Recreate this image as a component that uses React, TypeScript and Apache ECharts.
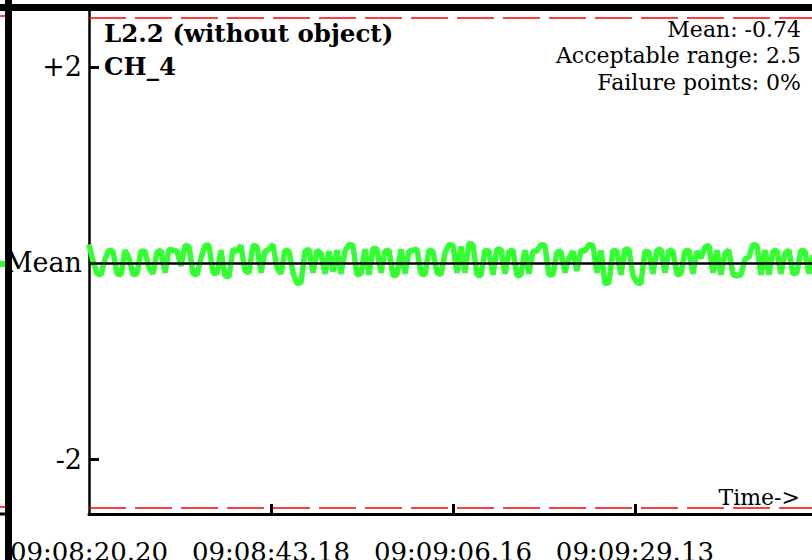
import React, { useEffect, useRef } from 'react';
import * as echarts from 'echarts';

const titleLines = ['L2.2 (without object)', 'CH_4'];
const meanValue = -0.74;
const acceptableRange = 2.5;
const failurePercent = 0;
const startSeconds = 20.2;
const endSeconds = 111.49;
const sampleStep = 0.505;
const tickSeconds = [20.2, 43.18, 66.16, 89.13];
const tickLabels = ['09:08:20.20', '09:08:43.18', '09:09:06.16', '09:09:29.13'];
const yTickValues = [-2, 0, 2];
const yTickLabels = ['-2', 'Mean', '+2'];

// deviation from the mean, one sample every sampleStep seconds
const deviation = [
  0.19, 0.02, -0.11, -0.12, 0.04, 0.13, 0.12, -0.11, -0.12, 0.13, 0.05, -0.12, -0.11, 0.12, 0.12, -0.05,
  -0.11, 0.11, 0.13, -0.1, 0.14, 0.13, 0.12, -0.03, 0.18, 0.17, -0.11, -0.12, 0.05, 0.18, 0.18,
  -0.1, -0.11, 0.13, -0.13, -0.14, 0.14, 0.12, 0.18, -0.08, -0.1, 0.18, 0.17, -0.1, 0.12, 0.14, 0.19,
  -0.05, -0.11, 0.13, 0.12, -0.1, -0.21, -0.2, 0.12, 0.14, -0.1, 0.13, 0.1, -0.11, 0.12, -0.09,
  0.13, -0.11, 0.12, 0.19, 0.18, -0.12, -0.11, 0.14, -0.12, 0.15, 0.14, -0.1, 0.12, 0.13, -0.13, -0.12,
  0.14, -0.11, 0.12, 0.13, 0.14, -0.11, -0.12, 0.13, 0.12, -0.1, -0.12, 0.1, 0.19, 0.18, -0.1,
  0.17, -0.1, 0.2, 0.19, -0.12, -0.13, 0.13, 0.12, -0.12, 0.14, 0.14, -0.11, 0.12, 0.13, -0.13, -0.12,
  0.13, -0.11, 0.12, 0.12, 0.19, 0.18, -0.12, -0.12, 0.11, 0.12, -0.1, 0.05, 0.12, -0.08, 0.13,
  0.12, 0.19, 0.18, -0.1, 0.13, -0.21, -0.2, 0.13, 0.12, -0.12, 0.14, 0.14, -0.13, -0.2, -0.21, 0.12,
  0.11, -0.11, 0.13, 0.14, -0.1, 0.13, 0.12, -0.12, -0.11, 0.12, 0.13, -0.11, 0.12, 0.05, 0.16,
  0.18, -0.1, 0.13, -0.12, 0.1, 0.13, -0.12, -0.13, -0.12, 0.04, 0.06, 0.19, 0.18, -0.12, 0.13, -0.12,
  0.12, 0.13, -0.11, 0.1, 0.13, -0.11, -0.1, 0.13, 0.12, -0.11, 0.08,
];

const FONT = '"DejaVu Serif"';

export default function App() {
  const ref = useRef<HTMLDivElement>(null);
  useEffect(() => {
    document.body.style.margin = '0';
    document.body.style.overflow = 'hidden';
    const chart = echarts.init(ref.current!, null, { renderer: 'svg' });
    const points = deviation.map((v, i) => [startSeconds + i * sampleStep, v]);
    const nearestLabel = (v: number) => {
      let best = 0;
      tickSeconds.forEach((t, i) => {
        if (Math.abs(t - v) < Math.abs(tickSeconds[best] - v)) best = i;
      });
      return tickLabels[best];
    };
    const infoLines = [
      `Mean: ${meanValue}`,
      `Acceptable range: ${acceptableRange}`,
      `Failure points: ${failurePercent}%`,
    ];
    const redDash = { color: '#ff0000', width: 1.5, type: [37, 9] as any };
    chart.setOption({
      animation: false,
      backgroundColor: '#fff',
      grid: { left: 89, right: 0, top: 11, bottom: 46, outerBoundsMode: 'none', containLabel: false },
      xAxis: {
        type: 'value',
        min: startSeconds,
        max: endSeconds,
        axisLine: { onZero: false, lineStyle: { color: '#000', width: 3 } },
        axisTick: {
          show: true,
          inside: true,
          length: 10,
          customValues: tickSeconds.slice(1),
          lineStyle: { color: '#000', width: 3 },
        },
        axisLabel: {
          customValues: tickSeconds,
          formatter: (v: number) => nearestLabel(v),
          color: '#000',
          fontFamily: FONT,
          fontSize: 26,
          margin: 25,
        },
        splitLine: { show: false },
      },
      yAxis: {
        type: 'value',
        min: -2.56,
        max: 2.57,
        axisLine: { show: true, onZero: false, lineStyle: { color: '#000', width: 2.5 } },
        axisTick: {
          show: true,
          inside: true,
          length: 10,
          customValues: [-2, 2],
          lineStyle: { color: '#000', width: 3 },
        },
        axisLabel: {
          customValues: yTickValues,
          formatter: (v: number) => yTickLabels[yTickValues.indexOf(Math.round(v))] ?? '',
          color: '#000',
          fontFamily: FONT,
          fontSize: 27,
          margin: 7,
        },
        splitLine: { show: false },
      },
      series: [
        {
          type: 'line',
          data: [[startSeconds, 0]],
          symbol: 'none',
          z: 1,
          lineStyle: { width: 0 },
          markLine: {
            silent: true,
            symbol: 'none',
            label: { show: false },
            data: [
              { yAxis: 0, lineStyle: { color: '#000', width: 2.5, type: 'solid' } },
              { yAxis: acceptableRange, lineStyle: redDash },
              { yAxis: -acceptableRange, lineStyle: redDash },
            ],
          },
        },
        {
          type: 'line',
          data: points,
          symbol: 'none',
          z: 3,
          lineStyle: { color: '#33ff33', width: 5.5 },
        },
      ],
      graphic: [
        { type: 'rect', shape: { x: 0, y: 4, width: 812, height: 7 }, style: { fill: '#000' }, z: 100 },
        { type: 'rect', shape: { x: 5, y: 0, width: 7, height: 560 }, style: { fill: '#000' }, z: 100 },
        { type: 'line', shape: { x1: 0, y1: 16, x2: 5, y2: 16 }, style: { stroke: '#ff0000', lineWidth: 1.5 }, z: 90 },
        { type: 'line', shape: { x1: 0, y1: 507, x2: 5, y2: 507 }, style: { stroke: '#ff0000', lineWidth: 1.5 }, z: 90 },
        { type: 'line', shape: { x1: 0, y1: 514, x2: 5, y2: 514 }, style: { stroke: '#000', lineWidth: 3 }, z: 90 },
        { type: 'line', shape: { x1: 0, y1: 264, x2: 5, y2: 264 }, style: { stroke: '#33ff33', lineWidth: 6 }, z: 90 },
        {
          type: 'text',
          x: 104,
          y: 17,
          z: 100,
          style: {
            text: titleLines.join('\n'),
            font: `bold 24.5px ${FONT}`,
            lineHeight: 33,
            fill: '#000',
            align: 'left',
            verticalAlign: 'top',
          },
        },
        {
          type: 'text',
          x: 801,
          y: 16,
          z: 100,
          style: {
            text: infoLines.join('\n'),
            font: `22px ${FONT}`,
            lineHeight: 26.5,
            fill: '#000',
            align: 'right',
            verticalAlign: 'top',
          },
        },
        {
          type: 'text',
          x: 800,
          y: 486,
          z: 100,
          style: {
            text: 'Time->',
            font: `22px ${FONT}`,
            fill: '#000',
            align: 'right',
            verticalAlign: 'top',
          },
        },
      ],
    });
    return () => chart.dispose();
  }, []);
  return <div ref={ref} style={{ position: 'fixed', left: 0, top: 0, width: 812, height: 560 }} />;
}
